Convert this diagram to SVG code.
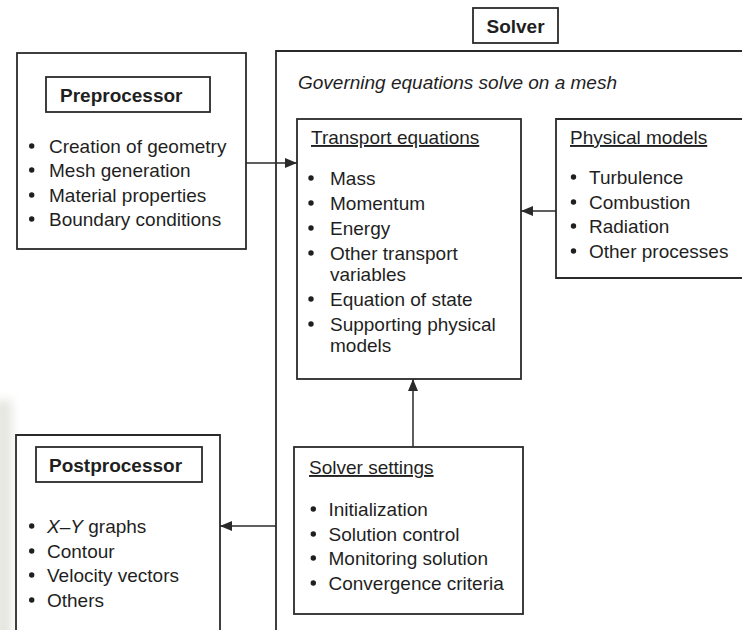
<svg xmlns="http://www.w3.org/2000/svg" width="742" height="630" viewBox="0 0 742 630">
<defs>
<style>
.box{fill:none;stroke:#2a2a2a;stroke-width:1.8}
.t{font-family:"Liberation Sans",Arial,sans-serif;font-size:19px;fill:#1f1f1f}
.b{font-weight:bold}
.i{font-style:italic}
.u{text-decoration:underline}
.con{fill:none;stroke:#2a2a2a;stroke-width:1.5}
.dot{fill:#1f1f1f}
</style>
<marker id="ah" viewBox="0 0 12 10" refX="12" refY="5" markerWidth="12" markerHeight="10" markerUnits="userSpaceOnUse" orient="auto">
<path d="M0,0 L12,5 L0,10 Z" fill="#2a2a2a"/>
</marker>
<filter id="blur" x="-1" y="-0.2" width="3" height="1.4">
<feGaussianBlur stdDeviation="5"/>
</filter>
</defs>
<rect width="742" height="630" fill="#ffffff"/>
<rect x="-6" y="400" width="18" height="240" fill="#dcdcd4" opacity="0.7" filter="url(#blur)"/>

<g id="solver">
<path class="box" d="M742,51 H276 V630"/>
<rect class="box" x="473" y="8" width="85" height="35"/>
<text class="t b" x="515.5" y="33" text-anchor="middle">Solver</text>
<text class="t i" x="298" y="89">Governing equations solve on a mesh</text>
</g>

<g id="preprocessor">
<rect class="box" x="17" y="53" width="229" height="196"/>
<rect class="box" x="46" y="77" width="164" height="35"/>
<text class="t b" x="60" y="102">Preprocessor</text>
<circle class="dot" cx="31.7" cy="146" r="2.7"/><text class="t" x="49" y="153">Creation of geometry</text>
<circle class="dot" cx="31.7" cy="170" r="2.7"/><text class="t" x="49" y="177">Mesh generation</text>
<circle class="dot" cx="31.7" cy="195" r="2.7"/><text class="t" x="49" y="202">Material properties</text>
<circle class="dot" cx="31.7" cy="219" r="2.7"/><text class="t" x="49" y="226">Boundary conditions</text>
</g>

<g id="transport">
<rect class="box" x="297" y="119" width="224" height="260"/>
<text class="t u" x="311" y="144">Transport equations</text>
<circle class="dot" cx="311" cy="178" r="2.7"/><text class="t" x="330" y="185">Mass</text>
<circle class="dot" cx="311" cy="203" r="2.7"/><text class="t" x="330" y="210">Momentum</text>
<circle class="dot" cx="311" cy="228" r="2.7"/><text class="t" x="330" y="235">Energy</text>
<circle class="dot" cx="311" cy="253" r="2.7"/><text class="t" x="330" y="260">Other transport</text>
<text class="t" x="330" y="281">variables</text>
<circle class="dot" cx="311" cy="299" r="2.7"/><text class="t" x="330" y="306">Equation of state</text>
<circle class="dot" cx="311" cy="324" r="2.7"/><text class="t" x="330" y="331">Supporting physical</text>
<text class="t" x="330" y="352">models</text>
</g>

<g id="physical">
<path class="box" d="M745,119 H556 V278 H745"/>
<text class="t u" x="570" y="144">Physical models</text>
<circle class="dot" cx="573.5" cy="177" r="2.7"/><text class="t" x="589" y="184">Turbulence</text>
<circle class="dot" cx="573.5" cy="202" r="2.7"/><text class="t" x="589" y="209">Combustion</text>
<circle class="dot" cx="573.5" cy="226" r="2.7"/><text class="t" x="589" y="233">Radiation</text>
<circle class="dot" cx="573.5" cy="251" r="2.7"/><text class="t" x="589" y="258">Other processes</text>
</g>

<g id="settings">
<rect class="box" x="294" y="447" width="229" height="167"/>
<text class="t u" x="309" y="474">Solver settings</text>
<circle class="dot" cx="313.3" cy="509" r="2.7"/><text class="t" x="328.5" y="516">Initialization</text>
<circle class="dot" cx="313.3" cy="534" r="2.7"/><text class="t" x="328.5" y="541">Solution control</text>
<circle class="dot" cx="313.3" cy="558" r="2.7"/><text class="t" x="328.5" y="565">Monitoring solution</text>
<circle class="dot" cx="313.3" cy="583" r="2.7"/><text class="t" x="328.5" y="590">Convergence criteria</text>
</g>

<g id="postprocessor">
<path class="box" d="M16,632 V435 H220 V632"/>
<rect class="box" x="36" y="447" width="166" height="35"/>
<text class="t b" x="49" y="472">Postprocessor</text>
<circle class="dot" cx="31.7" cy="526" r="2.7"/><text class="t" x="47" y="533"><tspan class="i">X</tspan>–<tspan class="i">Y</tspan> graphs</text>
<circle class="dot" cx="31.7" cy="551" r="2.7"/><text class="t" x="47" y="558">Contour</text>
<circle class="dot" cx="31.7" cy="575" r="2.7"/><text class="t" x="47" y="582">Velocity vectors</text>
<circle class="dot" cx="31.7" cy="600" r="2.7"/><text class="t" x="47" y="607">Others</text>
</g>

<g id="connectors">
<line class="con" x1="246" y1="163" x2="297" y2="163" marker-end="url(#ah)"/>
<line class="con" x1="556" y1="211" x2="521" y2="211" marker-end="url(#ah)"/>
<line class="con" x1="413" y1="447" x2="413" y2="379" marker-end="url(#ah)"/>
<line class="con" x1="276" y1="526" x2="220" y2="526" marker-end="url(#ah)"/>
</g>
</svg>
